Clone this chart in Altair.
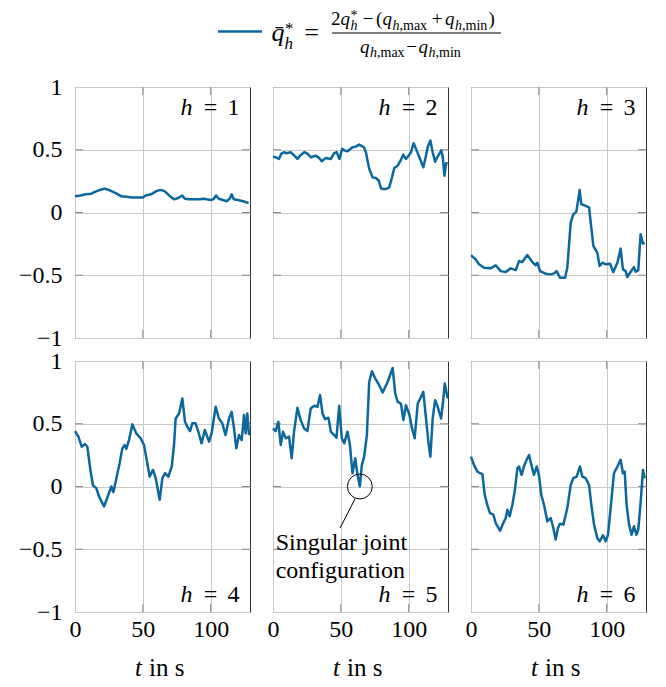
import altair as alt
import pandas as pd

FONT = "Liberation Serif"
LINE = "#0b679c"
GRID = "#c8c8c8"
TICKC = "#8a8a8a"
W, H = 175, 251

XTICKS = [0, 50, 100]
YTICKS = [-1, -0.5, 0, 0.5, 1]
XIN = [50, 100]
YIN = [-0.5, 0, 0.5]

t1 = [0, 4, 8, 12, 16, 20, 22, 26, 30, 34, 38, 42, 46, 50, 52, 56, 60, 63, 66, 70, 73, 76, 79, 81, 84,
      88, 92, 95, 97, 100, 102, 104, 106, 109, 112, 114, 115.5, 117, 120, 124, 128]
q1 = [0.13, 0.135, 0.145, 0.15, 0.17, 0.185, 0.19, 0.175, 0.155, 0.13, 0.125, 0.12, 0.12, 0.12, 0.135,
      0.145, 0.17, 0.18, 0.17, 0.13, 0.105, 0.115, 0.135, 0.11, 0.105, 0.105, 0.105, 0.11, 0.105, 0.1,
      0.105, 0.135, 0.11, 0.1, 0.09, 0.11, 0.145, 0.105, 0.1, 0.09, 0.075]

t2 = [0, 2, 4.4, 6, 8, 10, 13, 15, 18, 20, 23, 25, 28, 31.5, 34, 36, 39, 42.6, 45, 47, 49, 51, 53, 55,
      58.6, 61, 63.5, 67, 68.5, 69.7, 71, 73.4, 75.9, 78, 79.6, 81, 83, 85.7, 87.7, 89.4, 91.9, 94.3, 96,
      98, 100, 101.7, 103.7, 105.4, 107.9, 110.8, 112.8, 114, 116, 117.7, 119.5, 121, 124, 125, 126.4,
      127.6, 128.8]
q2 = [0.445, 0.44, 0.427, 0.467, 0.48, 0.472, 0.48, 0.461, 0.427, 0.453, 0.48, 0.472, 0.44, 0.453, 0.435,
      0.408, 0.435, 0.427, 0.472, 0.48, 0.427, 0.507, 0.493, 0.488, 0.52, 0.525, 0.541, 0.52, 0.48, 0.413,
      0.347, 0.28, 0.275, 0.253, 0.192, 0.187, 0.187, 0.2, 0.28, 0.355, 0.373, 0.419, 0.461, 0.427, 0.453,
      0.48, 0.552, 0.507, 0.44, 0.36, 0.453, 0.52, 0.573, 0.48, 0.405, 0.44, 0.493, 0.453, 0.293, 0.392,
      0.392]

t3 = [0, 3.4, 5.9, 9.6, 14.5, 18.2, 21.9, 25.6, 29.2, 33, 35.4, 37.8, 41.5, 45.2, 47.7, 48.9, 50.9, 55,
      58.7, 61.2, 63.1, 65.6, 69.3, 71, 73.5, 75.4, 77.6, 78.9, 80.1, 81.3, 84.5, 87, 88.7, 90.2, 93.1,
      94.8, 96.8, 99.3, 102.5, 104.9, 107.9, 110.3, 112, 114, 115.2, 117.7, 120.1, 121.4, 123.3, 125,
      126.8, 128]
q3 = [-0.339, -0.373, -0.413, -0.44, -0.445, -0.42, -0.467, -0.475, -0.445, -0.459, -0.387, -0.395,
      -0.339, -0.395, -0.42, -0.4, -0.467, -0.488, -0.493, -0.485, -0.467, -0.52, -0.52, -0.44, -0.08,
      -0.013, 0.005, 0.093, 0.179, 0.067, 0.053, 0.04, -0.12, -0.267, -0.32, -0.427, -0.4, -0.413, -0.408,
      -0.475, -0.4, -0.288, -0.453, -0.467, -0.515, -0.472, -0.435, -0.472, -0.461, -0.173, -0.248, -0.24]

t4 = [0, 2.5, 4.9, 7.4, 9.1, 11.5, 13.3, 15.7, 17.7, 21.4, 24.6, 26.8, 28.3, 30.5, 32.9, 34.9, 36.6,
      37.8, 39.8, 42.3, 45.2, 48.4, 50.9, 53.3, 55, 57.5, 59.5, 62.4, 64.4, 66.3, 68.8, 71.3, 73, 74.2,
      76.7, 79.1, 81.1, 82.8, 84.8, 86.5, 88.9, 90.9, 93.3, 95.7, 98.8, 100.7, 103.7, 106.1, 108.6, 111,
      113.5, 115.5, 117.2, 118.9, 120.9, 122.9, 124.6, 125.8, 127, 128.3]
q4 = [0.442, 0.397, 0.317, 0.339, 0.317, 0.119, 0.008, -0.013, -0.079, -0.159, -0.066, 0.0, -0.045,
      0.066, 0.185, 0.304, 0.331, 0.3, 0.37, 0.495, 0.423, 0.384, 0.331, 0.185, 0.079, 0.132, 0.066,
      -0.106, 0.066, 0.106, 0.079, 0.159, 0.331, 0.542, 0.582, 0.701, 0.516, 0.476, 0.442, 0.503, 0.503,
      0.437, 0.344, 0.45, 0.357, 0.423, 0.635, 0.542, 0.503, 0.41, 0.542, 0.595, 0.463, 0.304, 0.41,
      0.37, 0.569, 0.423, 0.582, 0.41]

t5 = [0, 2, 3.9, 5.7, 7.4, 9.4, 11.8, 13.8, 15.5, 18, 20.4, 22.9, 25.4, 27.8, 30.3, 32.8, 34.7, 36.5,
      38.4, 40.9, 42.6, 45.1, 46.8, 48.8, 50.7, 52.5, 54.9, 56.7, 58.6, 60.6, 62.3, 64, 65.5, 67.2, 69.2,
      70.9, 72.9, 75.4, 78.3, 80.8, 84.5, 88.2, 90.1, 91.9, 94.3, 96.1, 98, 100.5, 102.5, 104.4, 106.7,
      109.1, 110.8, 112.8, 114.5, 116, 117.7, 119.5, 121.4, 123.9, 125.1, 126.6, 128.8]
q5 = [0.463, 0.442, 0.516, 0.331, 0.437, 0.384, 0.397, 0.225, 0.437, 0.627, 0.529, 0.463, 0.442, 0.622,
      0.643, 0.635, 0.728, 0.582, 0.537, 0.548, 0.437, 0.41, 0.389, 0.643, 0.384, 0.344, 0.437, 0.331,
      0.106, 0.225, 0.093, 0.0, 0.172, 0.238, 0.41, 0.833, 0.918, 0.86, 0.807, 0.749, 0.833, 0.944, 0.741,
      0.675, 0.661, 0.529, 0.648, 0.574, 0.463, 0.384, 0.661, 0.714, 0.754, 0.542, 0.357, 0.238, 0.542,
      0.688, 0.635, 0.542, 0.648, 0.82, 0.701]

t6 = [0, 2.2, 4.7, 6.6, 8.4, 10.1, 12, 14, 16.5, 18.2, 21.4, 23.8, 25.6, 26.8, 28.5, 30.5, 32.2, 34.2,
      35.4, 37.3, 39, 41, 42.8, 44.5, 46.4, 48.4, 50.1, 51.8, 53.8, 56.3, 58.7, 60.4, 62.4, 64.1, 65.6,
      68.1, 71, 73.5, 75.4, 77.9, 80.3, 82.1, 84.5, 87, 88.7, 90.7, 93.1, 94.8, 97.3, 99.3, 101, 103.4,
      105.4, 107.9, 110.3, 112, 113.3, 114.7, 116.5, 118.4, 120.1, 121.9, 123.3, 125.1, 126.8, 128]
q6 = [0.238, 0.172, 0.119, 0.106, 0.098, -0.066, -0.146, -0.212, -0.225, -0.291, -0.352, -0.291, -0.251,
      -0.185, -0.238, -0.146, -0.04, 0.146, 0.159, 0.093, 0.159, 0.212, 0.251, 0.172, 0.093, 0.159, 0.093,
      -0.066, -0.146, -0.278, -0.251, -0.317, -0.423, -0.331, -0.296, -0.304, -0.172, 0.013, 0.066, 0.079,
      0.159, 0.079, 0.066, 0.013, -0.146, -0.304, -0.41, -0.437, -0.389, -0.437, -0.384, -0.119, 0.106,
      0.159, 0.212, 0.106, 0.119, -0.146, -0.304, -0.384, -0.317, -0.384, -0.344, -0.119, 0.132, 0.066]

SERIES = [(t1, q1), (t2, q2), (t3, q3), (t4, q4), (t5, q5), (t6, q6)]
H_LABELS = ["1", "2", "3", "4", "5", "6"]

# annotation (panel h = 5): circle centre, leader line, text lines
ANN_CIRCLE = (64, 0.0)
ANN_LINE = (60.6, -0.095, 49.5, -0.33)
ANN_TEXT = ["Singular joint", "configuration"]
ANN_TEXT_POS = [(2.0, -0.45), (2.0, -0.675)]

xs = alt.Scale(domain=[0, 129], nice=False, zero=False)
ys = alt.Scale(domain=[-1, 1], nice=False, zero=False)

one = pd.DataFrame({"a": [0]})


def txt(s, x, y, size=24, italic=False, align="center", baseline="alphabetic", color="black"):
    kw = dict(text=s, font=FONT, fontSize=size, align=align, baseline=baseline, color=color)
    if italic:
        kw["fontStyle"] = "italic"
    return alt.Chart(one).mark_text(**kw).encode(x=alt.value(x), y=alt.value(y))


def panel(idx):
    t, q = SERIES[idx]
    col, row = idx % 3, idx // 3
    df = pd.DataFrame({"t": t, "q": q})
    xk = dict(values=XTICKS, grid=True, gridColor=GRID, gridWidth=1, ticks=False, tickSize=0,
              domain=False, labels=(row == 1), labelFlush=False)
    if row == 1:
        xk.update(labelFont=FONT, labelFontSize=24, labelColor="black", labelPadding=5)
    yk = dict(values=YTICKS, grid=True, gridColor=GRID, gridWidth=1, ticks=False, tickSize=0,
              domain=False, labels=(col == 0), labelFlush=False)
    if col == 0:
        yk.update(labelFont=FONT, labelFontSize=24, labelColor="black", labelPadding=13,
                  labelExpr="datum.value < 0 ? '\u2212' + format(-datum.value, '') : format(datum.value, '')")
    line = alt.Chart(df).mark_line(color=LINE, strokeWidth=2.5, strokeJoin="round").encode(
        x=alt.X("t:Q", scale=xs, axis=alt.Axis(**xk), title=None),
        y=alt.Y("q:Q", scale=ys, axis=alt.Axis(**yk), title=None),
    )
    ydf = pd.DataFrame({"v": YIN})
    xdf = pd.DataFrame({"v": XIN})
    tk = dict(color=TICKC, strokeWidth=1)
    ticks = [
        alt.Chart(ydf).mark_rule(**tk).encode(y=alt.Y("v:Q", scale=ys), x=alt.value(0), x2=alt.value(8)),
        alt.Chart(ydf).mark_rule(**tk).encode(y=alt.Y("v:Q", scale=ys), x=alt.value(W - 8), x2=alt.value(W)),
        alt.Chart(xdf).mark_rule(**tk).encode(x=alt.X("v:Q", scale=xs), y=alt.value(0), y2=alt.value(8)),
        alt.Chart(xdf).mark_rule(**tk).encode(x=alt.X("v:Q", scale=xs), y=alt.value(H - 8), y2=alt.value(H)),
    ]
    ly = 28 if row == 0 else H - 10
    labels = [
        txt("h", 111.5, ly, italic=True),
        txt("=", 135.5, ly),
        txt(H_LABELS[idx], 158.5, ly),
    ]
    layers = ticks + [line] + labels
    if row == 1:
        layers += [txt("t", 63.5, H + 64, size=25, italic=True),
                   txt("in s", 74, H + 64, size=25, align="left")]
    if idx == 4:
        cdf = pd.DataFrame({"t": [ANN_CIRCLE[0]], "q": [ANN_CIRCLE[1]]})
        layers.append(alt.Chart(cdf).mark_point(shape="circle", size=620, filled=False, color="black",
                                                strokeWidth=1, opacity=1).encode(
            x=alt.X("t:Q", scale=xs), y=alt.Y("q:Q", scale=ys)))
        ldf = pd.DataFrame({"t": [ANN_LINE[0]], "q": [ANN_LINE[1]], "t2": [ANN_LINE[2]], "q2": [ANN_LINE[3]]})
        layers.append(alt.Chart(ldf).mark_rule(color="black", strokeWidth=1).encode(
            x=alt.X("t:Q", scale=xs), y=alt.Y("q:Q", scale=ys), x2="t2:Q", y2="q2:Q"))
        adf = pd.DataFrame({"t": [p[0] for p in ANN_TEXT_POS], "q": [p[1] for p in ANN_TEXT_POS],
                            "s": ANN_TEXT})
        layers.append(alt.Chart(adf).mark_text(font=FONT, fontSize=24, align="left", baseline="middle",
                                               color="black").encode(
            x=alt.X("t:Q", scale=xs), y=alt.Y("q:Q", scale=ys), text="s:N"))
    return alt.layer(*layers).properties(width=W, height=H)


# header (legend with formula), laid out relative to the header origin
OX, OY = 76, 9


def ht(s, px, py, size, italic=False, align="left"):
    return txt(s, px - OX, py - OY, size=size, italic=italic, align=align)


MAIN, SUB = 19, 14
NB, SB, SP = 23.5, 28.5, 18.5      # numerator baseline, its subscript / superscript baselines
DB, DSB = 51.5, 55.5               # denominator baseline, its subscript baseline
header_layers = [
    alt.Chart(one).mark_rule(color=LINE, strokeWidth=2.5).encode(
        x=alt.value(219 - OX), x2=alt.value(263 - OX), y=alt.value(30.5 - OY)),
    ht("q\u0304", 279, 40, 26, italic=True, align="center"),
    ht("*", 286, 33, 17),
    ht("h", 285.5, 48, 17, italic=True),
    ht("=", 312.5, 40, 26, align="center"),
    alt.Chart(one).mark_rule(color="black", strokeWidth=1).encode(
        x=alt.value(333 - OX), x2=alt.value(502 - OX), y=alt.value(32 - OY)),
    # numerator: 2q*_h - (q_{h,max} + q_{h,min})
    ht("2", 332, NB, MAIN),
    ht("q", 341.5, NB, MAIN, italic=True),
    ht("*", 351.5, SP, SUB),
    ht("h", 351.5, SB, SUB, italic=True),
    ht("\u2212", 369, NB, MAIN, align="center"),
    ht("(", 377, NB, MAIN),
    ht("q", 383.5, NB, MAIN, italic=True),
    ht("h", 393.5, SB, SUB, italic=True),
    ht(",max", 400.5, SB, SUB),
    ht("+", 438, NB, MAIN, align="center"),
    ht("q", 446, NB, MAIN, italic=True),
    ht("h", 456, SB, SUB, italic=True),
    ht(",min", 463, SB, SUB),
    ht(")", 489.5, NB, MAIN),
    # denominator: q_{h,max} - q_{h,min}
    ht("q", 361, DB, MAIN, italic=True),
    ht("h", 371, DSB, SUB, italic=True),
    ht(",max", 378, DSB, SUB),
    ht("\u2212", 412.5, DB, MAIN, align="center"),
    ht("q", 419.5, DB, MAIN, italic=True),
    ht("h", 429.5, DSB, SUB, italic=True),
    ht(",min", 436.5, DSB, SUB),
]
header = alt.layer(*header_layers).properties(width=440, height=62,
                                               view=alt.ViewBackground(strokeOpacity=0))

grid = alt.concat(*[panel(i) for i in range(6)], columns=3, spacing=23, bounds="flush")

chart = alt.vconcat(header, grid, spacing=2).properties(
    padding={"left": 9, "top": 0, "right": 5, "bottom": 0}
).configure_view(stroke="#333333", strokeWidth=1)

chart.save("out.html", embed_options={"renderer": "svg", "actions": False})
